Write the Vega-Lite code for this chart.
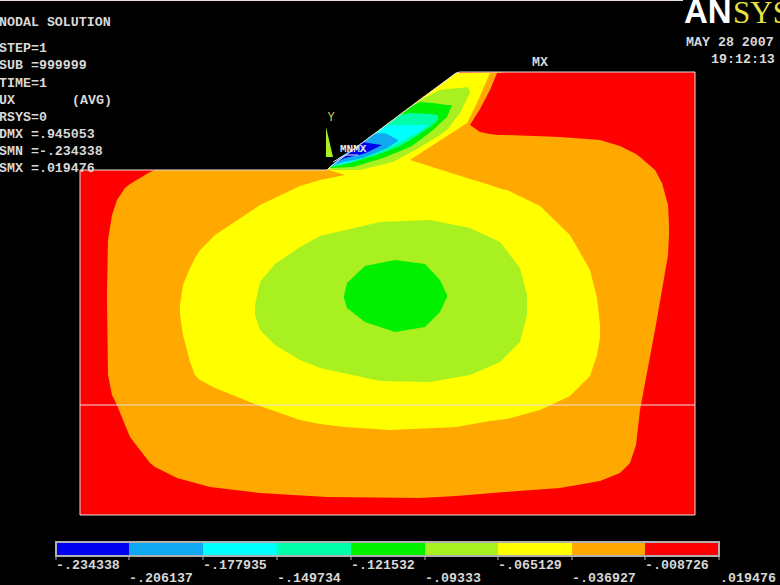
{"$schema":"https://vega.github.io/schema/vega-lite/v6.json","width":780,"height":585,"padding":0,"autosize":{"type":"none"},"background":"#000000","view":{"stroke":null},
"datasets":{
"regions":[
{"region":"r01","band":"red","x":80,"top":170,"bottom":515},{"region":"r01","band":"red","x":327,"top":170,"bottom":515},{"region":"r01","band":"red","x":330,"top":167,"bottom":515},{"region":"r01","band":"red","x":456,"top":73,"bottom":515},{"region":"r01","band":"red","x":460,"top":72,"bottom":515},{"region":"r01","band":"red","x":695,"top":72,"bottom":515},
{"region":"r02","band":"orange","x":107,"top":290,"bottom":300},{"region":"r02","band":"orange","x":108,"top":240,"bottom":375},{"region":"r02","band":"orange","x":112,"top":215,"bottom":395},{"region":"r02","band":"orange","x":117,"top":200,"bottom":405},{"region":"r02","band":"orange","x":125,"top":188,"bottom":425},{"region":"r02","band":"orange","x":130,"top":184,"bottom":437},{"region":"r02","band":"orange","x":150,"top":172,"bottom":463},{"region":"r02","band":"orange","x":155,"top":170,"bottom":467},{"region":"r02","band":"orange","x":177,"top":170,"bottom":478},{"region":"r02","band":"orange","x":210,"top":170,"bottom":487},{"region":"r02","band":"orange","x":260,"top":170,"bottom":493},{"region":"r02","band":"orange","x":327,"top":170,"bottom":497},{"region":"r02","band":"orange","x":330,"top":167,"bottom":497},{"region":"r02","band":"orange","x":420,"top":99,"bottom":498},{"region":"r02","band":"orange","x":456,"top":73,"bottom":496},{"region":"r02","band":"orange","x":505,"top":72,"bottom":492},{"region":"r02","band":"orange","x":505.1,"top":135,"bottom":492},{"region":"r02","band":"orange","x":560,"top":137,"bottom":488},{"region":"r02","band":"orange","x":600,"top":140,"bottom":481},{"region":"r02","band":"orange","x":620,"top":146,"bottom":473},{"region":"r02","band":"orange","x":630,"top":151,"bottom":463},{"region":"r02","band":"orange","x":636,"top":154,"bottom":445},{"region":"r02","band":"orange","x":640,"top":157,"bottom":410},{"region":"r02","band":"orange","x":655,"top":170,"bottom":330},{"region":"r02","band":"orange","x":662,"top":183,"bottom":290},{"region":"r02","band":"orange","x":668,"top":205,"bottom":255},{"region":"r02","band":"orange","x":669,"top":225,"bottom":235},
{"region":"r03","band":"yellow","x":180,"top":305,"bottom":315},{"region":"r03","band":"yellow","x":183,"top":285,"bottom":335},{"region":"r03","band":"yellow","x":190,"top":268,"bottom":362},{"region":"r03","band":"yellow","x":195,"top":258,"bottom":375},{"region":"r03","band":"yellow","x":200,"top":250,"bottom":380},{"region":"r03","band":"yellow","x":215,"top":235,"bottom":388},{"region":"r03","band":"yellow","x":260,"top":205,"bottom":406},{"region":"r03","band":"yellow","x":300,"top":186,"bottom":420},{"region":"r03","band":"yellow","x":320,"top":180,"bottom":424},{"region":"r03","band":"yellow","x":345,"top":175,"bottom":427},{"region":"r03","band":"yellow","x":345.1,"top":156,"bottom":427},{"region":"r03","band":"yellow","x":390,"top":122,"bottom":430},{"region":"r03","band":"yellow","x":456,"top":73,"bottom":427},{"region":"r03","band":"yellow","x":490,"top":73,"bottom":421},{"region":"r03","band":"yellow","x":490.1,"top":185,"bottom":421},{"region":"r03","band":"yellow","x":507,"top":190,"bottom":419},{"region":"r03","band":"yellow","x":540,"top":206,"bottom":410},{"region":"r03","band":"yellow","x":570,"top":235,"bottom":396},{"region":"r03","band":"yellow","x":590,"top":270,"bottom":376},{"region":"r03","band":"yellow","x":597,"top":298,"bottom":355},{"region":"r03","band":"yellow","x":600,"top":325,"bottom":338},
{"region":"r04","band":"yellow","x":329,"top":168,"bottom":170},{"region":"r04","band":"yellow","x":345,"top":156,"bottom":175},
{"region":"r05","band":"orange","x":410,"top":160,"bottom":160},{"region":"r05","band":"orange","x":467,"top":123,"bottom":178},{"region":"r05","band":"orange","x":477,"top":103,"bottom":181},{"region":"r05","band":"orange","x":490,"top":73,"bottom":185},{"region":"r05","band":"orange","x":505,"top":72,"bottom":190},
{"region":"r06","band":"red","x":470,"top":125,"bottom":125},{"region":"r06","band":"red","x":480,"top":109,"bottom":132},{"region":"r06","band":"red","x":490,"top":90,"bottom":134},{"region":"r06","band":"red","x":497,"top":73,"bottom":135},{"region":"r06","band":"red","x":506,"top":72,"bottom":135},
{"region":"r07","band":"lime","x":255,"top":305,"bottom":315},{"region":"r07","band":"lime","x":260,"top":282,"bottom":330},{"region":"r07","band":"lime","x":275,"top":264,"bottom":345},{"region":"r07","band":"lime","x":300,"top":247,"bottom":360},{"region":"r07","band":"lime","x":320,"top":236,"bottom":368},{"region":"r07","band":"lime","x":380,"top":222,"bottom":381},{"region":"r07","band":"lime","x":430,"top":220,"bottom":382},{"region":"r07","band":"lime","x":470,"top":228,"bottom":375},{"region":"r07","band":"lime","x":500,"top":242,"bottom":362},{"region":"r07","band":"lime","x":520,"top":268,"bottom":342},{"region":"r07","band":"lime","x":527,"top":295,"bottom":315},
{"region":"r08","band":"green","x":344,"top":296,"bottom":298},{"region":"r08","band":"green","x":347,"top":283,"bottom":308},{"region":"r08","band":"green","x":365,"top":266,"bottom":322},{"region":"r08","band":"green","x":395,"top":260,"bottom":332},{"region":"r08","band":"green","x":425,"top":264,"bottom":327},{"region":"r08","band":"green","x":440,"top":280,"bottom":312},{"region":"r08","band":"green","x":447,"top":295,"bottom":297},
{"region":"r09","band":"lime","x":330,"top":167,"bottom":170},{"region":"r09","band":"lime","x":360,"top":144,"bottom":170},{"region":"r09","band":"lime","x":393,"top":120,"bottom":162},{"region":"r09","band":"lime","x":417,"top":102,"bottom":149},{"region":"r09","band":"lime","x":440,"top":90,"bottom":135},{"region":"r09","band":"lime","x":447,"top":89,"bottom":130},{"region":"r09","band":"lime","x":460,"top":88,"bottom":113},{"region":"r09","band":"lime","x":468,"top":87,"bottom":97},{"region":"r09","band":"lime","x":470,"top":93,"bottom":93},
{"region":"r10","band":"green","x":330,"top":167,"bottom":168},{"region":"r10","band":"green","x":353,"top":150,"bottom":167},{"region":"r10","band":"green","x":383,"top":127,"bottom":158},{"region":"r10","band":"green","x":410,"top":107,"bottom":147},{"region":"r10","band":"green","x":420,"top":102,"bottom":140},{"region":"r10","band":"green","x":433,"top":103,"bottom":130},{"region":"r10","band":"green","x":447,"top":105,"bottom":117},{"region":"r10","band":"green","x":452,"top":105,"bottom":105},
{"region":"r11","band":"spring","x":332,"top":165,"bottom":167},{"region":"r11","band":"spring","x":350,"top":152,"bottom":163},{"region":"r11","band":"spring","x":377,"top":132,"bottom":155},{"region":"r11","band":"spring","x":400,"top":115,"bottom":146},{"region":"r11","band":"spring","x":410,"top":113,"bottom":140},{"region":"r11","band":"spring","x":430,"top":114,"bottom":127},{"region":"r11","band":"spring","x":438,"top":115,"bottom":120},
{"region":"r12","band":"cyan","x":332,"top":165,"bottom":166},{"region":"r12","band":"cyan","x":350,"top":152,"bottom":162},{"region":"r12","band":"cyan","x":377,"top":132,"bottom":153},{"region":"r12","band":"cyan","x":387,"top":125,"bottom":148},{"region":"r12","band":"cyan","x":400,"top":125,"bottom":142},{"region":"r12","band":"cyan","x":417,"top":125,"bottom":133},{"region":"r12","band":"cyan","x":427,"top":125,"bottom":126},
{"region":"r13","band":"sky","x":332,"top":165,"bottom":166},{"region":"r13","band":"sky","x":340,"top":157,"bottom":163},{"region":"r13","band":"sky","x":363,"top":142,"bottom":158},{"region":"r13","band":"sky","x":373,"top":134,"bottom":154},{"region":"r13","band":"sky","x":383,"top":133,"bottom":150},{"region":"r13","band":"sky","x":387,"top":134,"bottom":148},{"region":"r13","band":"sky","x":398,"top":140,"bottom":141},
{"region":"r14","band":"blue","x":335,"top":163,"bottom":163},{"region":"r14","band":"blue","x":345,"top":156,"bottom":158},{"region":"r14","band":"blue","x":363,"top":142,"bottom":154},{"region":"r14","band":"blue","x":368,"top":143,"bottom":152},{"region":"r14","band":"blue","x":382,"top":145,"bottom":145},
{"region":"r15","band":"lime","x":326,"top":127,"bottom":157},{"region":"r15","band":"lime","x":333,"top":157,"bottom":157}
],
"paths":[
{"path":"outline","seq":1,"x":80,"y":170},{"path":"outline","seq":2,"x":327,"y":170},{"path":"outline","seq":3,"x":330,"y":167},{"path":"outline","seq":4,"x":456,"y":73},{"path":"outline","seq":5,"x":460,"y":72},{"path":"outline","seq":6,"x":695,"y":72},{"path":"outline","seq":7,"x":695,"y":515},{"path":"outline","seq":8,"x":80,"y":515},{"path":"outline","seq":9,"x":80,"y":170},
{"path":"interface","seq":1,"x":80,"y":405},{"path":"interface","seq":2,"x":695,"y":405},
{"path":"pointer","seq":1,"x":333,"y":162},{"path":"pointer","seq":2,"x":345,"y":155},{"path":"pointer","seq":3,"x":358,"y":155},
{"path":"top","seq":1,"x":0,"y":0.5},{"path":"top","seq":2,"x":683,"y":0.5}
],
"legend":[
{"band":"blue","x0":56,"x1":129},{"band":"sky","x0":129,"x1":203},{"band":"cyan","x0":203,"x1":277},{"band":"spring","x0":277,"x1":351},{"band":"green","x0":351,"x1":425},{"band":"lime","x0":425,"x1":498},{"band":"yellow","x0":498,"x1":572},{"band":"orange","x0":572,"x1":645},{"band":"red","x0":645,"x1":719}
],
"ticks":[{"x":56},{"x":129},{"x":203},{"x":277},{"x":351},{"x":425},{"x":498},{"x":572},{"x":645},{"x":719}],
"notes":[
{"label":"NODAL SOLUTION","x":-1,"y":26},{"label":"STEP=1","x":-1,"y":52},{"label":"SUB =999999","x":-1,"y":69},{"label":"TIME=1","x":-1,"y":87},{"label":"UX","x":-1,"y":104},{"label":"(AVG)","x":72,"y":104},{"label":"RSYS=0","x":-1,"y":121},{"label":"DMX =.945053","x":-1,"y":138},{"label":"SMN =-.234338","x":-1,"y":155},{"label":"SMX =.019476","x":-1,"y":172},
{"label":"MAY 28 2007","x":686,"y":46},{"label":"19:12:13","x":711,"y":63},{"label":"MX","x":532,"y":66},
{"label":"-.234338","x":56,"y":569},{"label":"-.206137","x":129,"y":582},{"label":"-.177935","x":203,"y":569},{"label":"-.149734","x":277,"y":582},{"label":"-.121532","x":351,"y":569},{"label":"-.09333","x":425,"y":582},{"label":"-.065129","x":498,"y":569},{"label":"-.036927","x":572,"y":582},{"label":"-.008726","x":645,"y":569},{"label":".019476","x":720,"y":582}
]
},
"layer":[
{"data":{"name":"regions"},"mark":{"type":"area"},
"encoding":{
"x":{"field":"x","type":"quantitative","scale":{"domain":[0,780],"nice":false,"zero":false},"axis":null},
"y":{"field":"top","type":"quantitative","scale":{"domain":[585,0],"nice":false,"zero":false},"axis":null},
"y2":{"field":"bottom"},
"detail":{"field":"region"},
"color":{"field":"band","type":"nominal","legend":null,"scale":{"domain":["blue","sky","cyan","spring","green","lime","yellow","orange","red"],"range":["#0000f0","#10a8f0","#00ffff","#00ffa8","#00f000","#a8f020","#ffff00","#ffa800","#ff0000"]}}}},
{"data":{"name":"paths"},"mark":{"type":"line","strokeWidth":1,"color":"#eedddd"},
"encoding":{"x":{"field":"x","type":"quantitative"},"y":{"field":"y","type":"quantitative"},"detail":{"field":"path"},"order":{"field":"seq","type":"quantitative"}}},
{"data":{"name":"legend"},"mark":{"type":"rect"},
"encoding":{"x":{"field":"x0","type":"quantitative"},"x2":{"field":"x1"},"y":{"datum":542},"y2":{"datum":556},"color":{"field":"band","type":"nominal","legend":null}}},
{"data":{"values":[{"x0":56,"x1":719}]},"mark":{"type":"rect","fill":null,"stroke":"#b0b0b0","strokeWidth":2},
"encoding":{"x":{"field":"x0","type":"quantitative"},"x2":{"field":"x1"},"y":{"datum":542},"y2":{"datum":556}}},
{"data":{"name":"ticks"},"mark":{"type":"rule","color":"#b0b0b0","strokeWidth":1},
"encoding":{"x":{"field":"x","type":"quantitative"},"y":{"datum":556},"y2":{"datum":560}}},
{"data":{"name":"notes"},"mark":{"type":"text","font":"Liberation Mono","fontSize":13.3,"fontWeight":"bold","align":"left","baseline":"alphabetic","color":"#d8d8d8"},
"encoding":{"x":{"field":"x","type":"quantitative"},"y":{"field":"y","type":"quantitative"},"text":{"field":"label"}}},
{"data":{"values":[{"label":"MNMX","x":340,"y":152}]},"mark":{"type":"text","font":"Liberation Mono","fontSize":11,"fontWeight":"bold","align":"left","baseline":"alphabetic","color":"#e8e8e8"},
"encoding":{"x":{"field":"x","type":"quantitative"},"y":{"field":"y","type":"quantitative"},"text":{"field":"label"}}},
{"data":{"values":[{"label":"Y","x":331,"y":121}]},"mark":{"type":"text","font":"Liberation Mono","fontSize":12,"align":"center","baseline":"alphabetic","color":"#c8c860"},
"encoding":{"x":{"field":"x","type":"quantitative"},"y":{"field":"y","type":"quantitative"},"text":{"field":"label"}}},
{"data":{"values":[{"label":"AN","x":684,"y":23}]},"mark":{"type":"text","font":"Liberation Sans","fontSize":33,"fontWeight":"bold","align":"left","baseline":"alphabetic","color":"#ffffff"},
"encoding":{"x":{"field":"x","type":"quantitative"},"y":{"field":"y","type":"quantitative"},"text":{"field":"label"}}},
{"data":{"values":[{"label":"SYS","x":733,"y":23}]},"mark":{"type":"text","font":"Liberation Serif","fontSize":31,"align":"left","baseline":"alphabetic","color":"#e6e040"},
"encoding":{"x":{"field":"x","type":"quantitative"},"y":{"field":"y","type":"quantitative"},"text":{"field":"label"}}}
]}
